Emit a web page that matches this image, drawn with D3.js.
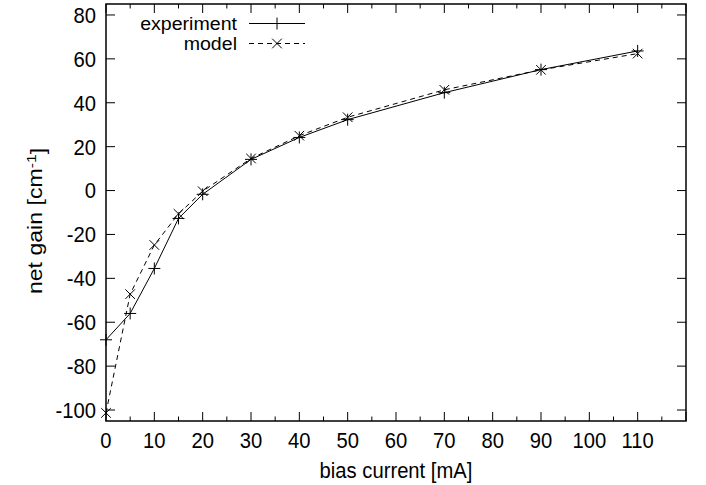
<!DOCTYPE html>
<html lang="en">
<head>
    <meta charset="UTF-8">
    <title>Net gain vs bias current</title>
    <script src="https://d3js.org/d3.v7.min.js"></script>
    <style>
        body { margin: 0; background: #fff; }
        text { font-family: "Liberation Sans", Arial, sans-serif; fill: #000; }
    </style>
</head>
<body>
    <svg id="chart" width="706" height="485"></svg>

    <script>
        // data
        const current = [0, 5, 10, 15, 20, 30, 40, 50, 70, 90, 110];
        const experiment = [-68, -56, -35.5, -12.7, -1.7, 14.2, 24.2, 32.3, 44.6, 55.1, 63.6];
        const model = [-101.3, -47.2, -24.8, -10.6, -0.3, 14.6, 25.0, 33.4, 45.9, 55.0, 62.4];
        const xTicks = d3.range(0, 111, 10);
        const xMinor = d3.range(5, 120, 10);
        const yTicks = d3.range(-100, 81, 20);

        const margin = { left: 106, right: 20, top: 4, bottom: 64 };
        const width = 706, height = 485;
        const fs = 22, sx = 0.92; // the original text looks a bit squeezed sideways

        const svg = d3.select("#chart");

        const x = d3.scaleLinear().domain([0, 120]).range([margin.left, width - margin.right]);
        const y = d3.scaleLinear().domain([-105, 85]).range([height - margin.bottom, margin.top]);

        const x0 = x.range()[0], x1 = x.range()[1];
        const y0 = y.range()[0], y1 = y.range()[1];
        const major = 9, minor = 4.5;

        // helper for horizontal text
        function label(g, tx, ty, str, anchor, size, stretch) {
            return g.append("text")
                .attr("transform", `translate(${tx},${ty}) scale(${stretch || sx},1)`)
                .attr("dy", "0.36em")
                .attr("text-anchor", anchor)
                .attr("font-size", size || fs)
                .text(str);
        }

        const ticks = svg.append("g").attr("stroke", "#000").attr("stroke-width", 1);

        // x ticks on bottom and top (mirrored)
        xTicks.concat([120]).forEach(v => {
            ticks.append("line").attr("x1", x(v)).attr("x2", x(v)).attr("y1", y0).attr("y2", y0 - major);
            ticks.append("line").attr("x1", x(v)).attr("x2", x(v)).attr("y1", y1).attr("y2", y1 + major);
        });
        xMinor.forEach(v => {
            ticks.append("line").attr("x1", x(v)).attr("x2", x(v)).attr("y1", y0).attr("y2", y0 - minor);
            ticks.append("line").attr("x1", x(v)).attr("x2", x(v)).attr("y1", y1).attr("y2", y1 + minor);
        });
        // y ticks on left and right
        yTicks.forEach(v => {
            ticks.append("line").attr("x1", x0).attr("x2", x0 + major).attr("y1", y(v)).attr("y2", y(v));
            ticks.append("line").attr("x1", x1).attr("x2", x1 - major).attr("y1", y(v)).attr("y2", y(v));
        });

        // tick labels
        const tl = svg.append("g");
        xTicks.forEach(v => label(tl, x(v), y0 + 19, v, "middle"));
        yTicks.forEach(v => label(tl, x0 - 10, y(v), v, "end"));

        // axis titles
        label(svg, (x0 + x1) / 2, 470, "bias current [mA]", "middle");

        const ylab = svg.append("text")
            .attr("transform", "translate(35,221) rotate(-90) scale(1.05,0.9)")
            .attr("dy", "0.36em")
            .attr("text-anchor", "middle")
            .attr("font-size", fs);
        ylab.append("tspan").text("net gain [cm");
        ylab.append("tspan").attr("dy", "-0.45em").attr("font-size", 15).text("-1");
        ylab.append("tspan").attr("dy", "0.45em").text("]");

        // lines
        const line = d3.line().x(d => x(d[0])).y(d => y(d[1]));
        const expPts = current.map((c, i) => [c, experiment[i]]);
        const modPts = current.map((c, i) => [c, model[i]]);

        svg.append("path")
            .attr("d", line(expPts))
            .attr("fill", "none")
            .attr("stroke", "#000")
            .attr("stroke-width", 1);

        svg.append("path")
            .attr("d", line(modPts))
            .attr("fill", "none")
            .attr("stroke", "#000")
            .attr("stroke-width", 1)
            .attr("stroke-dasharray", "5,4");

        const s = 6;
        function plus(g, cx, cy) {
            g.append("path")
                .attr("d", `M${cx - s},${cy}H${cx + s}M${cx},${cy - s}V${cy + s}`)
                .attr("stroke", "#000").attr("stroke-width", 1);
        }
        function cross(g, cx, cy) {
            const h = s * 0.8;
            g.append("path")
                .attr("d", `M${cx - h},${cy - h}L${cx + h},${cy + h}M${cx - h},${cy + h}L${cx + h},${cy - h}`)
                .attr("stroke", "#000").attr("stroke-width", 1);
        }

        const marks = svg.append("g");
        expPts.forEach(d => plus(marks, x(d[0]), y(d[1])));
        modPts.forEach(d => cross(marks, x(d[0]), y(d[1])));

        // legend
        const leg = svg.append("g");
        const legTextX = 237, legL = 249, legR = 305;
        [["experiment", 23.5, false], ["model", 43.5, true]].forEach(([name, ly, dashed]) => {
            label(leg, legTextX, ly, name, "end", 17.5, 1.12);
            const l = leg.append("line")
                .attr("x1", legL).attr("x2", legR)
                .attr("y1", ly).attr("y2", ly)
                .attr("stroke", "#000").attr("stroke-width", 1);
            if (dashed) { l.attr("stroke-dasharray", "5,4"); cross(leg, (legL + legR) / 2, ly); }
            else plus(leg, (legL + legR) / 2, ly);
        });

        // frame
        svg.append("rect")
            .attr("x", x0).attr("y", y1)
            .attr("width", x1 - x0).attr("height", y0 - y1)
            .attr("fill", "none")
            .attr("stroke", "#000")
            .attr("stroke-width", 1.5);
    </script>
</body>
</html>
